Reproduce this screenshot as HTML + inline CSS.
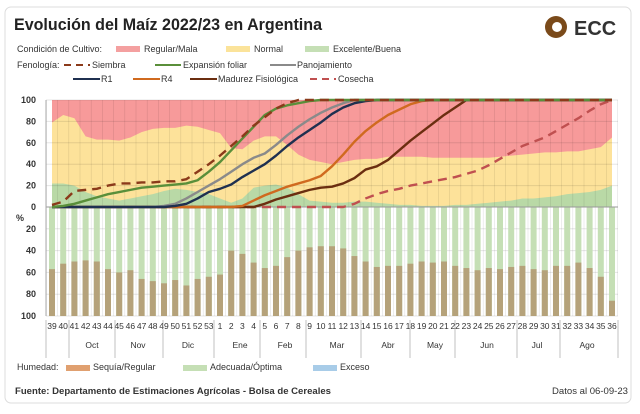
<!DOCTYPE html><html><head><meta charset="utf-8"><style>
body{margin:0;background:#fff;font-family:"Liberation Sans",sans-serif}
</style></head><body>
<svg id="s" width="640" height="409" xmlns="http://www.w3.org/2000/svg" font-family="Liberation Sans, sans-serif">
<rect x="5" y="7" width="626" height="396" rx="6" fill="#fff" stroke="#ddd"/>
<text x="14" y="30" font-size="17" font-weight="bold" fill="#222" textLength="308" lengthAdjust="spacingAndGlyphs">Evolución del Maíz 2022/23  en Argentina</text>
<circle cx="556" cy="27" r="11" fill="#7a4a1a"/><circle cx="557" cy="27" r="5" fill="#fff"/>
<text x="574" y="35" font-size="20" font-weight="bold" fill="#333">ECC</text>
<g font-size="9" fill="#333">
<text x="17" y="52">Condición de Cultivo:</text>
<rect x="116" y="46" width="24" height="6" fill="#f4a0a0"/><text x="144" y="52">Regular/Mala</text>
<rect x="226" y="46" width="24" height="6" fill="#fbe39a"/><text x="254" y="52">Normal</text>
<rect x="305" y="46" width="24" height="6" fill="#c5dfb5"/><text x="333" y="52">Excelente/Buena</text>
<text x="17" y="68">Fenología:</text>
<line x1="64" y1="65" x2="90" y2="65" stroke="#8b3a1a" stroke-width="2" stroke-dasharray="7,5"/><text x="92" y="68">Siembra</text>
<line x1="155" y1="65" x2="181" y2="65" stroke="#5a8f3a" stroke-width="2"/><text x="183" y="68">Expansión foliar</text>
<line x1="270" y1="65" x2="296" y2="65" stroke="#8a8a8a" stroke-width="2"/><text x="297" y="68">Panojamiento</text>
<line x1="73" y1="79" x2="100" y2="79" stroke="#1f3050" stroke-width="2"/><text x="101" y="82">R1</text>
<line x1="133" y1="79" x2="160" y2="79" stroke="#d06a1f" stroke-width="2"/><text x="161" y="82">R4</text>
<line x1="190" y1="79" x2="217" y2="79" stroke="#6b2e10" stroke-width="2"/><text x="218" y="82">Madurez Fisiológica</text>
<line x1="310" y1="79" x2="336" y2="79" stroke="#c05050" stroke-width="2" stroke-dasharray="7,5"/><text x="338" y="82">Cosecha</text>
</g>
<g id="plot"></g>
<g font-size="9" fill="#333">
<text x="17" y="370">Humedad:</text>
<rect x="66" y="365" width="24" height="6" fill="#e0a070"/><text x="93" y="370">Sequía/Regular</text>
<rect x="183" y="365" width="24" height="6" fill="#c5dfb5"/><text x="210" y="370">Adecuada/Óptima</text>
<rect x="313" y="365" width="24" height="6" fill="#a8cce8"/><text x="340" y="370">Exceso</text>
<text x="15" y="394" font-weight="bold" font-size="9.5" textLength="316" lengthAdjust="spacingAndGlyphs">Fuente: Departamento de Estimaciones Agrícolas - Bolsa de Cereales</text>
<text x="552" y="394" font-size="9.5" textLength="76" lengthAdjust="spacingAndGlyphs">Datos al 06-09-23</text>
</g>
</svg>
<script>
const N=51,X=i=>52+i*11.2,YT=v=>207-v*1.07,YB=v=>207+v*1.09;
const wk=[];for(let w=39;w<=53;w++)wk.push(w);for(let w=1;w<=36;w++)wk.push(w);
const gr=[22,22,20,14,10,8,6,8,10,12,15,17,16,14,12,8,4,8,18,20,21,18,12,6,5,4,4,5,5,4,3,2,2,1,1,1,2,2,3,4,5,6,8,8,9,10,12,13,14,16,20];
const ye=[79,86,83,66,63,63,62,65,70,73,74,74,76,75,72,69,55,54,62,66,66,58,49,44,42,40,42,44,45,45,47,47,47,47,46,46,46,46,46,46,47,48,49,50,51,51,52,52,54,56,65];
const br=[57,52,50,49,50,57,60,58,66,68,70,67,72,66,64,62,40,43,51,56,54,46,40,37,36,36,38,45,50,55,54,54,52,50,51,50,54,56,58,56,57,55,54,57,58,54,54,51,56,64,86];
function kf(o){const ks=Object.keys(o).map(Number).sort((a,b)=>a-b);const a=[];for(let i=0;i<N;i++){if(i<ks[0])a.push(0);else if(i>ks[ks.length-1])a.push(100);else a.push(o[i]!==undefined?o[i]:100)}return a}
const sie=kf({0:2,1:5,2:15,3:16,4:17,5:20,6:22,7:22,8:23,9:23,10:24,11:24,12:26,13:33,14:40,15:48,16:57,17:66,18:76,19:84,20:92,21:97,22:100});
const exp=kf({0:0,1:1,2:3,3:6,4:9,5:12,6:14,7:16,8:18,9:19,10:20,11:21,12:22,13:25,14:33,15:42,16:53,17:64,18:75,19:86,20:92,21:95,22:97,23:99,24:100});
const pan=kf({9:0,10:1,11:3,12:8,13:14,14:20,15:26,16:33,17:40,18:46,19:50,20:58,21:67,22:75,23:82,24:88,25:93,26:97,27:100});
const r1=kf({10:0,11:1,12:3,13:8,14:14,15:17,16:21,17:28,18:34,19:40,20:48,21:57,22:65,23:72,24:79,25:87,26:93,27:97,28:99,29:100});
const r4=kf({16:0,17:1,18:6,19:11,20:15,21:19,22:22,23:25,24:29,25:38,26:49,27:61,28:71,29:79,30:86,31:91,32:96,33:99,34:100});
const mad=kf({17:0,18:0,19:3,20:7,21:10,22:13,23:16,24:18,25:19,26:22,27:27,28:35,29:38,30:44,31:53,32:62,33:70,34:78,35:86,36:93,37:100});
const cos=kf({0:0,26:0,27:3,28:8,29:12,30:15,31:17,32:20,33:22,34:24,35:26,36:28,37:31,38:34,39:39,40:45,41:51,42:57,43:61,44:65,45:71,46:77,47:83,48:90,49:96,50:100});
for(let i=1;i<26;i++)cos[i]=0;
let h='';
const x0=X(0),x1=X(N-1);
h+=`<rect x="${x0}" y="${YT(100)}" width="${x1-x0}" height="${107}" fill="#f79a9a"/>`;
const area=(a,c)=>{let p=`M${x0},${YT(0)}`;a.forEach((v,i)=>p+=`L${X(i)},${YT(v)}`);p+=`L${x1},${YT(0)}Z`;return `<path d="${p}" fill="${c}"/>`};
h+=area(ye,'#fde29a')+area(gr,'#b9d9a6');
for(let i=0;i<=N;i++){const x=46.4+i*11.2;h+=`<line x1="${x}" y1="100" x2="${x}" y2="316" stroke="#000" stroke-opacity=".12" stroke-width=".6"/>`}
for(let v=20;v<=100;v+=20){h+=`<line x1="46" y1="${YT(v)}" x2="618" y2="${YT(v)}" stroke="#000" stroke-opacity=".1"/>`;h+=`<line x1="46" y1="${YB(v)}" x2="618" y2="${YB(v)}" stroke="#000" stroke-opacity=".1"/>`}
for(let i=0;i<N;i++){h+=`<rect x="${X(i)-3}" y="${YB(0)}" width="6" height="${YB(100)-YB(0)}" fill="#c5dfb5"/>`;h+=`<rect x="${X(i)-3}" y="${YB(br[i])}" width="6" height="${YB(100)-YB(br[i])}" fill="#b5a27a"/>`}
h+=`<line x1="46" y1="207" x2="618" y2="207" stroke="#999"/>`;
const line=(a,c,d)=>{let p='';a.forEach((v,i)=>p+=(i?'L':'M')+X(i)+','+YT(v));return `<path d="${p}" fill="none" stroke="${c}" stroke-width="2.4" ${d?'stroke-dasharray="9,6"':''} stroke-linejoin="round"/>`};
h+=line(cos,'#c05050',1)+line(mad,'#6b2e10')+line(r4,'#d06a1f')+line(pan,'#8a8a8a')+line(r1,'#1f3050')+line(exp,'#5a8f3a')+line(sie,'#8b3a1a',1);
for(let v=0;v<=100;v+=20){h+=`<text x="36" y="${YT(v)+3}" font-size="9" font-weight="bold" text-anchor="end" fill="#333">${v}</text>`;if(v)h+=`<text x="36" y="${YB(v)+3}" font-size="9" font-weight="bold" text-anchor="end" fill="#333">${v}</text>`}
h+=`<text x="16" y="221" font-size="9" font-weight="bold" fill="#333">%</text>`;
h+=`<line x1="46" y1="100" x2="46" y2="316" stroke="#aaa"/>`;
wk.forEach((w,i)=>{h+=`<text x="${X(i)}" y="329" font-size="8.5" text-anchor="middle" fill="#333">${w}</text>`});
const mo=[['Oct',92],['Nov',138],['Dic',188],['Ene',240],['Feb',285],['Mar',337],['Abr',388],['May',435],['Jun',487],['Jul',537],['Ago',587]];
mo.forEach(m=>h+=`<text x="${m[1]}" y="348" font-size="8.5" text-anchor="middle" fill="#333">${m[0]}</text>`);
[46,69,115,163,214,260,306,361,410,455,517,560,618].forEach(x=>h+=`<line x1="${x}" y1="320" x2="${x}" y2="358" stroke="#999" stroke-width=".6"/>`);
document.getElementById('plot').innerHTML=h;
</script>
</body></html>
